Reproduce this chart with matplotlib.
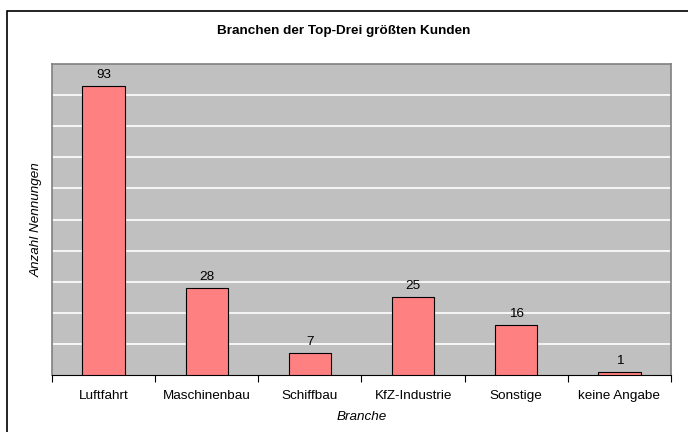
import numpy as np
import matplotlib.pyplot as plt
from matplotlib.patches import Rectangle

plt.rcParams['font.family'] = ['Liberation Sans', 'DejaVu Sans']

# Nennungen je Branche
branchen = ['Luftfahrt', 'Maschinenbau', 'Schiffbau', 'KfZ-Industrie', 'Sonstige', 'keine Angabe']
nennungen = [93, 28, 7, 25, 16, 1]

W, H = 688, 432
fs = 9.7
fig = plt.figure(figsize=(W / 100, H / 100), dpi=100)
fig.patch.set_facecolor('white')

# Rahmen um das Diagramm (rechts und unten ausserhalb des Bildes)
fig.patches.append(Rectangle((7 / W, -0.1), 1.2, 1 - 11 / H + 0.1, transform=fig.transFigure,
                             fill=False, edgecolor='black', linewidth=1.2))

ax = fig.add_axes([52 / W, 1 - 375 / H, (671 - 52) / W, (375 - 64) / H])
ax.set_facecolor('#C0C0C0')

x = np.arange(len(branchen))
ax.bar(x, nennungen, width=0.41, color='#FF8080', edgecolor='black', linewidth=0.8, zorder=3)
for xi, v in zip(x, nennungen):
    ax.text(xi, v + 1.6, str(v), ha='center', va='bottom', fontsize=fs, zorder=4)

ax.set_xlim(-0.5, len(branchen) - 0.5)
ax.set_ylim(0, 100)
ax.set_yticks(np.arange(10, 100, 10))
ax.yaxis.grid(True, color='white', linewidth=1.2)
ax.tick_params(axis='y', length=0, labelleft=False)

# Teilstriche zwischen den Kategorien, Beschriftung mittig
ax.set_xticks(np.arange(-0.5, len(branchen), 1))
ax.set_xticklabels([])
ax.set_xticks(x, minor=True)
ax.set_xticklabels(branchen, minor=True, fontsize=fs)
ax.tick_params(axis='x', which='major', direction='out', length=5, width=0.8)
ax.tick_params(axis='x', which='minor', length=0, pad=11)

for side in ['top', 'right', 'left']:
    ax.spines[side].set_color('#808080')
    ax.spines[side].set_linewidth(1.2)
ax.spines['bottom'].set_color('black')
ax.spines['bottom'].set_linewidth(0.8)

ax.set_xlabel('Branche', fontsize=fs, style='italic', labelpad=6)
ax.set_ylabel('Anzahl Nennungen', fontsize=fs, style='italic', labelpad=7)
fig.text(0.5, 1 - 31 / H, 'Branchen der Top-Drei größten Kunden', ha='center', va='center',
         fontsize=fs, fontweight='bold')

plt.savefig('out.png', dpi=100)
